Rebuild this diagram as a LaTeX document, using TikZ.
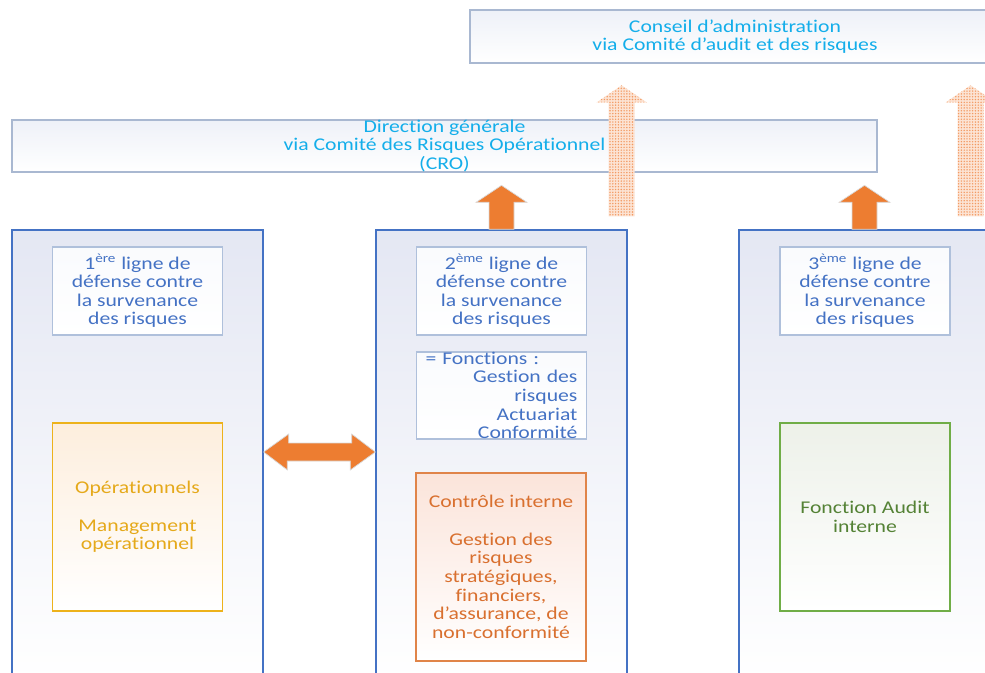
\documentclass[tikz,border=0pt]{standalone}
\usepackage{fontspec}
\setmainfont{Carlito}[FakeStretch=1.21,Ligatures=NoCommon]
\usetikzlibrary{positioning}
\usetikzlibrary{calc}
\usetikzlibrary{patterns.meta}

\definecolor{colblue}{HTML}{4472C4}
\definecolor{colfill}{HTML}{E4E7F3}
\definecolor{headline}{HTML}{AFC0DB}
\definecolor{topline}{HTML}{A9B8D1}
\definecolor{topfill}{HTML}{EEF1F8}
\definecolor{toptext}{HTML}{14AEEA}
\definecolor{arrorange}{HTML}{ED7D31}
\definecolor{dotorange}{HTML}{F39A62}
\definecolor{dotfill}{HTML}{FCE3D3}
\definecolor{ctrlline}{HTML}{E08449}
\definecolor{ctrlfill}{HTML}{FBE4DA}
\definecolor{ctrltext}{HTML}{D9702F}
\definecolor{operline}{HTML}{EDB21B}
\definecolor{operfill}{HTML}{FDEEDD}
\definecolor{opertext}{HTML}{E5A91A}
\definecolor{auditline}{HTML}{70AD47}
\definecolor{auditfill}{HTML}{EDF1E9}
\definecolor{audittext}{HTML}{548235}

\tikzset{
every node/.style={font=\fontsize{10.2}{10.6}\selectfont},
colbox/.style={draw=colblue,line width=0.8pt,top color=colfill,bottom color=white,
minimum width=5.02cm,minimum height=9cm},
topbox/.style={draw=topline,line width=0.7pt,top color=topfill,bottom color=white,
text=toptext,align=center,inner ysep=0pt},
headbox/.style={draw=headline,line width=0.7pt,top color=white!97!colblue,bottom color=white,
text=colblue,align=center,minimum width=3.4cm,minimum height=1.76cm,inner ysep=0pt},
rolebox/.style={line width=0.8pt,align=center,minimum width=3.4cm,minimum height=3.76cm},
solidarrow/.style={fill=arrorange,draw=white!70!gray,line width=0.4pt},
dotarrow/.style={preaction={fill=dotfill},
pattern={Dots[distance=1.6pt,radius=0.45pt]},pattern color=dotorange}
}

\begin{document}
\begin{tikzpicture}[x=0.02cm,y=-0.02cm]
\useasboundingbox(0,0)rectangle(985,673);
\clip(0,0)rectangle(985,673);

% les trois lignes de defense
\node[colbox](col1)at(137.5,455){};
\node[colbox](col2)at(501.5,455){};
\node[colbox](col3)at(864.5,455){};

\node[headbox](head1)at(137.5,291){1\textsuperscript{ère} ligne de\\défense contre\\la survenance\\des risques};
\node[headbox](head2)at(501.5,291){2\textsuperscript{ème} ligne de\\défense contre\\la survenance\\des risques};
\node[headbox](head3)at(865,291){3\textsuperscript{ème} ligne de\\défense contre\\la survenance\\des risques};

\node[headbox,minimum height=1.74cm,align=right,text width=3.04cm,inner xsep=0.18cm](fonct)at(501.5,395.5)
{\makebox[\linewidth][l]{= Fonctions :}\\Gestion des\\risques\\Actuariat\\Conformité};

\node[rolebox,draw=operline,top color=operfill,bottom color=white,text=opertext](oper)at(137.5,517)
{Opérationnels\\[10.6pt]Management\\opérationnel};
\node[rolebox,draw=ctrlline,top color=ctrlfill,bottom color=white,text=ctrltext](ctrl)at(501,567)
{Contrôle interne\\[10.6pt]Gestion des\\risques\\stratégiques,\\financiers,\\d’assurance, de\\non-conformité};
\node[rolebox,draw=auditline,top color=auditfill,bottom color=white,text=audittext](audit)at(865,517)
{Fonction Audit\\interne};

% instances de gouvernance
\node[topbox,minimum width=10.6cm,minimum height=1.06cm](conseil)at(735,36.5)
{Conseil d’administration\\via Comité d’audit et des risques};
\node[topbox,minimum width=17.3cm,minimum height=1.04cm](direction)at(444.5,146)
{Direction générale\\via Comité des Risques Opérationnel\\(CRO)};

%%
\draw[solidarrow](col2.north)++(-12.5,0)--++(0,-27)--++(-13,0)--++(25.5,-17)
--++(25.5,17)--++(-13,0)--++(0,27)--cycle;
\draw[solidarrow](col3.north)++(-12.5,0)--++(0,-27)--++(-13,0)--++(25.5,-17)
--++(25.5,17)--++(-13,0)--++(0,27)--cycle;
%
\coordinate(dot1)at($(col2.north east)+(-6,-13)$);
\coordinate(dot2)at($(col3.north east)+(-20,-13)$);
\path[dotarrow](dot1)++(-13,0)--++(0,-114)--++(-12,0)--++(25,-17)
--++(25,17)--++(-12,0)--++(0,114)--cycle;
\path[dotarrow](dot2)++(-13,0)--++(0,-114)--++(-12,0)--++(25,-17)
--++(25,17)--++(-12,0)--++(0,114)--cycle;
%
\coordinate(dl)at(col1.east|-0,452);
\coordinate(dr)at(col2.west|-0,452);
\draw[solidarrow](dl)--++(25,-18)--++(0,9)--++(63,0)--++(0,-9)--(dr)
--++(-25,18)--++(0,-9)--++(-63,0)--++(0,9)--cycle;
\end{tikzpicture}
\end{document}
